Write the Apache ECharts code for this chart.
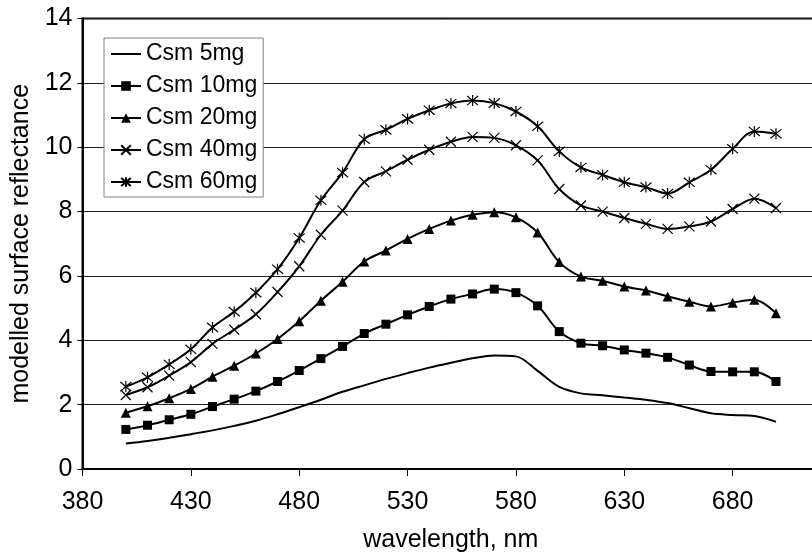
<!DOCTYPE html>
<html>
<head>
<meta charset="utf-8">
<script src="https://cdn.jsdelivr.net/npm/echarts@6/dist/echarts.min.js"></script>
<style>
  html, body { margin: 0; padding: 0; background: #fff; }
  #chart { width: 812px; height: 557px; }
</style>
</head>
<body>
<div id="chart"></div>
<script>
const wavelengths = [400, 410, 420, 430, 440, 450, 460, 470, 480, 490, 500, 510, 520, 530, 540, 550,
  560, 570, 580, 590, 600, 610, 620, 630, 640, 650, 660, 670, 680, 690, 700];
const csm5 = [0.79, 0.87, 0.97, 1.08, 1.2, 1.34, 1.5, 1.7, 1.92, 2.15, 2.4, 2.6, 2.8, 2.98, 3.15, 3.3,
  3.44, 3.53, 3.5, 3.05, 2.55, 2.35, 2.29, 2.22, 2.15, 2.05, 1.89, 1.73, 1.68, 1.65, 1.47];
const csm10 = [1.23, 1.36, 1.53, 1.7, 1.94, 2.17, 2.42, 2.72, 3.06, 3.43, 3.81, 4.21, 4.5, 4.79, 5.05, 5.28,
  5.44, 5.59, 5.48, 5.07, 4.27, 3.91, 3.83, 3.7, 3.6, 3.47, 3.23, 3.03, 3.02, 3.02, 2.72];
const csm20 = [1.75, 1.95, 2.2, 2.49, 2.87, 3.21, 3.59, 4.04, 4.59, 5.23, 5.82, 6.45, 6.79, 7.15, 7.46, 7.72,
  7.9, 7.98, 7.82, 7.35, 6.43, 5.98, 5.85, 5.67, 5.55, 5.36, 5.2, 5.05, 5.17, 5.26, 4.84];
const csm40 = [2.3, 2.54, 2.9, 3.32, 3.89, 4.33, 4.81, 5.5, 6.3, 7.28, 8.03, 8.92, 9.25, 9.61, 9.92, 10.17,
  10.32, 10.29, 10.06, 9.59, 8.7, 8.19, 8.0, 7.8, 7.62, 7.46, 7.54, 7.69, 8.08, 8.4, 8.11];
const csm60 = [2.56, 2.85, 3.25, 3.72, 4.4, 4.89, 5.48, 6.21, 7.18, 8.35, 9.21, 10.25, 10.54, 10.88, 11.15, 11.36,
  11.45, 11.37, 11.11, 10.65, 9.87, 9.37, 9.14, 8.91, 8.76, 8.56, 8.91, 9.3, 9.95, 10.49, 10.42];
const seriesNames = ["Csm 5mg", "Csm 10mg", "Csm 20mg", "Csm 40mg", "Csm 60mg"];
const xTicks = [380, 430, 480, 530, 580, 630, 680, 730];

const font = "'Liberation Sans', Arial, sans-serif";
const xCross = "path://M0 0L10 10M10 0L0 10";
const star = "path://M0 0L10 10M10 0L0 10M5 -1L5 11";

const chart = echarts.init(document.getElementById("chart"));

function pts(vals) {
  return wavelengths.map((w, i) => [w, vals[i]]);
}

function mkSeries(name, vals, symbol, size, stroked) {
  return {
    name: name,
    type: "line",
    data: pts(vals),
    smooth: 0.35,
    symbol: symbol,
    symbolSize: size,
    showAllSymbol: true,
    lineStyle: { color: "#000", width: 2 },
    itemStyle: stroked
      ? { color: "rgba(0,0,0,0)", borderColor: "#000", borderWidth: 1.2 }
      : { color: "#000", borderWidth: 0 },
    emphasis: { disabled: true },
    z: 3
  };
}

// legend: plain line for the 5mg series, no marker
const legendData = seriesNames.map((n, i) => i === 0
  ? { name: n, itemStyle: { color: "rgba(0,0,0,0)", borderWidth: 0 } }
  : { name: n });

const option = {
  animation: false,
  textStyle: { fontFamily: font },
  grid: {
    left: 82.5, right: -29, top: 18.5, bottom: 88,
    outerBoundsMode: "none",
    show: true, borderColor: "#000", borderWidth: 2
  },
  legend: {
    orient: "vertical",
    left: 104,
    top: 38,
    padding: [3, 6, 2, 6],
    itemGap: 6,
    itemWidth: 30,
    itemHeight: 12,
    backgroundColor: "#fff",
    borderColor: "#808080",
    borderWidth: 1,
    borderRadius: 0,
    data: legendData,
    textStyle: { fontSize: 23, color: "#000", fontFamily: font, lineHeight: 26 }
  },
  xAxis: {
    type: "value",
    min: xTicks[0],
    max: xTicks[xTicks.length - 1],
    interval: 50,
    name: "wavelength, nm",
    nameLocation: "middle",
    nameGap: 59,
    nameTextStyle: { fontSize: 25, color: "#000", fontFamily: font, padding: [0, 22, 0, 0] },
    axisLine: { lineStyle: { color: "#000", width: 2 } },
    axisTick: { show: true, length: 7, lineStyle: { color: "#000", width: 1 } },
    axisLabel: { fontSize: 25, color: "#000", margin: 21, fontFamily: font, hideOverlap: false },
    splitLine: { show: false }
  },
  yAxis: {
    type: "value",
    min: 0,
    max: 14,
    interval: 2,
    name: "modelled surface reflectance",
    nameLocation: "middle",
    nameGap: 47,
    nameTextStyle: { fontSize: 25, color: "#000", fontFamily: font },
    axisLine: { show: true, lineStyle: { color: "#000", width: 2 } },
    axisTick: { show: true, length: 5, lineStyle: { color: "#000", width: 1 } },
    axisLabel: { fontSize: 25, color: "#000", margin: 10, fontFamily: font },
    splitLine: { lineStyle: { color: "#222", width: 1 } }
  },
  series: [
    mkSeries(seriesNames[0], csm5, "none", 0, false),
    mkSeries(seriesNames[1], csm10, "rect", 9, false),
    mkSeries(seriesNames[2], csm20, "triangle", 10, false),
    mkSeries(seriesNames[3], csm40, xCross, 10, true),
    mkSeries(seriesNames[4], csm60, star, 11, true)
  ]
};

chart.setOption(option);
window.addEventListener("resize", () => chart.resize());
</script>
</body>
</html>
